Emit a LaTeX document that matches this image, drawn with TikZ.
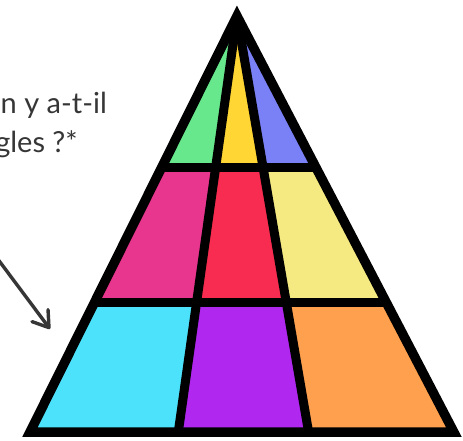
\documentclass[tikz,border=0pt]{standalone}
\usepackage{fontspec}
\setmainfont{Lato}
\usetikzlibrary{arrows.meta}
\definecolor{cgreen}{HTML}{68E88C}
\definecolor{cyellow}{HTML}{FFD633}
\definecolor{cblue}{HTML}{7A80F5}
\definecolor{cpink}{HTML}{E8358E}
\definecolor{cred}{HTML}{F72C50}
\definecolor{clyellow}{HTML}{F5EA82}
\definecolor{ccyan}{HTML}{4DE2FB}
\definecolor{cpurple}{HTML}{B027F0}
\definecolor{corange}{HTML}{FFA04E}
\definecolor{ctext}{HTML}{363636}
\tikzset{
  border/.style={line width=9.5pt, draw=black, line join=miter},
  divline/.style={line width=9pt, draw=black},
  qtext/.style={inner sep=0pt, anchor=base east, text=ctext, font=\fontsize{29}{35}\selectfont},
  pointer/.style={line width=3.4pt, draw=ctext, line cap=round, -{Straight Barb[length=15pt,width=20pt,line cap=round,line join=round]}}
}
\begin{document}
\begin{tikzpicture}[x=1pt,y=-1pt]
\useasboundingbox (0,0) rectangle (463,440);
% corner points (centreline)
\coordinate (A) at (237,16);
\coordinate (B) at (30,432);
\coordinate (C) at (453.8,432);
\coordinate (L1) at (161.9,167);
\coordinate (R1) at (315.8,167);
\coordinate (L2) at (94.7,302);
\coordinate (R2) at (386.1,302);
\coordinate (P1) at (215.7,167);
\coordinate (Q1) at (263.0,167);
\coordinate (P2) at (196.7,302);
\coordinate (Q2) at (286.2,302);
\coordinate (P3) at (178.3,432);
\coordinate (Q3) at (308.6,432);
% cells
\fill[cgreen] (A) -- (L1) -- (P1) -- cycle;
\fill[cyellow] (A) -- (P1) -- (Q1) -- cycle;
\fill[cblue] (A) -- (Q1) -- (R1) -- cycle;
\fill[cpink] (L1) -- (P1) -- (P2) -- (L2) -- cycle;
\fill[cred] (P1) -- (Q1) -- (Q2) -- (P2) -- cycle;
\fill[clyellow] (Q1) -- (R1) -- (R2) -- (Q2) -- cycle;
\fill[ccyan] (L2) -- (P2) -- (P3) -- (B) -- cycle;
\fill[cpurple] (P2) -- (Q2) -- (Q3) -- (P3) -- cycle;
\fill[corange] (Q2) -- (R2) -- (C) -- (Q3) -- cycle;
% dividers
\draw[divline] (A) -- (P3);
\draw[divline] (A) -- (Q3);
\draw[divline] (L1) -- (R1);
\draw[divline] (L2) -- (R2);
\draw[border] (A) -- (B) -- (C) -- cycle;
% text
\node[qtext] (t1) at (107,113) {n y a-t-il};
\node[qtext] (t2) at (78,152) {gles ?*};
% arrow
\coordinate (as) at (-3,258);
\coordinate (ae) at (50,329);
\draw[pointer] (as) -- (ae);
\end{tikzpicture}
\end{document}
